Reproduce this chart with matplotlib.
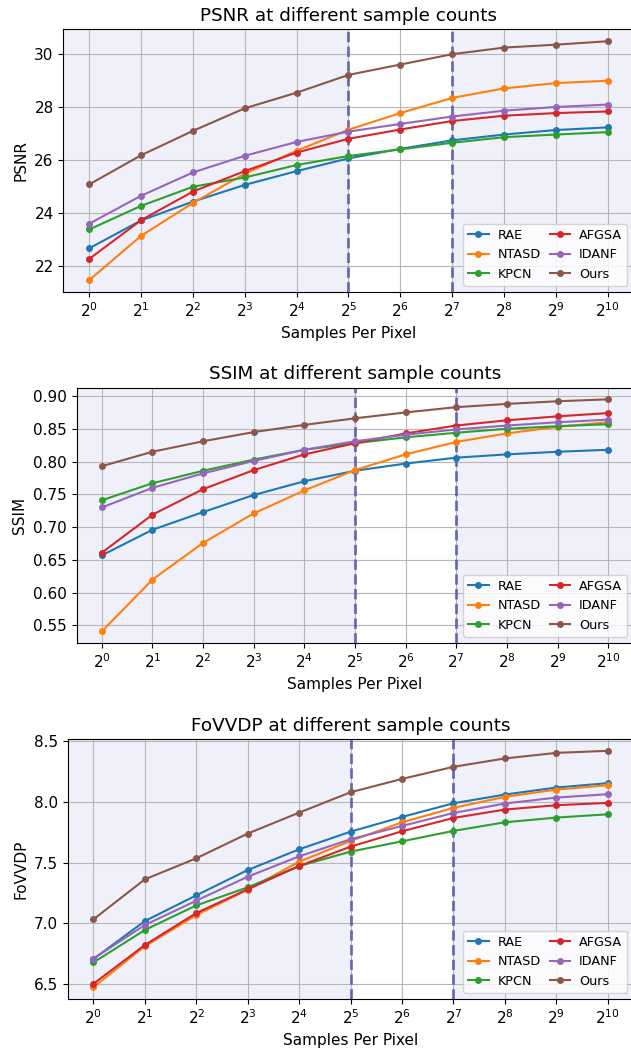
import matplotlib
matplotlib.use("Agg")
import matplotlib.pyplot as plt
import numpy as np

plt.rcParams['font.size'] = 11

methods = ["RAE", "NTASD", "KPCN", "AFGSA", "IDANF", "Ours"]
colors = ["#1f77b4", "#ff7f0e", "#2ca02c", "#d62728", "#9467bd", "#8c564b"]
exponents = list(range(11))
xtick_labels = [f"$2^{{{e}}}$" for e in exponents]

psnr_rae   = [22.67, 23.72, 24.43, 25.06, 25.58, 26.06, 26.42, 26.74, 26.96, 27.13, 27.23]
psnr_ntasd = [21.47, 23.14, 24.38, 25.48, 26.35, 27.14, 27.77, 28.34, 28.70, 28.90, 28.99]
psnr_kpcn  = [23.38, 24.27, 24.99, 25.34, 25.81, 26.15, 26.40, 26.65, 26.86, 26.96, 27.05]
psnr_afgsa = [22.27, 23.73, 24.81, 25.58, 26.28, 26.80, 27.15, 27.47, 27.67, 27.77, 27.83]
psnr_idanf = [23.60, 24.65, 25.53, 26.16, 26.68, 27.07, 27.36, 27.64, 27.86, 28.00, 28.09]
psnr_ours  = [25.08, 26.18, 27.10, 27.95, 28.54, 29.21, 29.60, 29.99, 30.24, 30.35, 30.48]

ssim_rae   = [0.657, 0.696, 0.723, 0.749, 0.770, 0.786, 0.797, 0.806, 0.811, 0.815, 0.818]
ssim_ntasd = [0.541, 0.620, 0.676, 0.721, 0.756, 0.787, 0.811, 0.830, 0.843, 0.853, 0.860]
ssim_kpcn  = [0.741, 0.767, 0.786, 0.803, 0.818, 0.828, 0.837, 0.844, 0.850, 0.854, 0.857]
ssim_afgsa = [0.661, 0.719, 0.758, 0.787, 0.811, 0.828, 0.843, 0.855, 0.863, 0.869, 0.874]
ssim_idanf = [0.730, 0.760, 0.782, 0.801, 0.818, 0.831, 0.841, 0.849, 0.855, 0.860, 0.864]
ssim_ours  = [0.793, 0.815, 0.831, 0.845, 0.856, 0.866, 0.875, 0.883, 0.888, 0.892, 0.895]

fovvdp_rae   = [6.704, 7.018, 7.230, 7.439, 7.610, 7.756, 7.877, 7.990, 8.062, 8.120, 8.156]
fovvdp_ntasd = [6.472, 6.809, 7.067, 7.277, 7.508, 7.679, 7.833, 7.952, 8.043, 8.103, 8.139]
fovvdp_kpcn  = [6.676, 6.944, 7.147, 7.296, 7.472, 7.591, 7.676, 7.762, 7.833, 7.872, 7.899]
fovvdp_afgsa = [6.500, 6.820, 7.084, 7.280, 7.472, 7.632, 7.759, 7.869, 7.938, 7.974, 7.993]
fovvdp_idanf = [6.708, 6.985, 7.186, 7.384, 7.552, 7.693, 7.803, 7.910, 7.988, 8.037, 8.065]
fovvdp_ours  = [7.032, 7.362, 7.536, 7.740, 7.913, 8.081, 8.191, 8.291, 8.360, 8.406, 8.423]

panels = [
    ("PSNR", [psnr_rae, psnr_ntasd, psnr_kpcn, psnr_afgsa, psnr_idanf, psnr_ours]),
    ("SSIM", [ssim_rae, ssim_ntasd, ssim_kpcn, ssim_afgsa, ssim_idanf, ssim_ours]),
    ("FoVVDP", [fovvdp_rae, fovvdp_ntasd, fovvdp_kpcn, fovvdp_afgsa, fovvdp_idanf, fovvdp_ours]),
]

W, H = 631, 1050
fig = plt.figure(figsize=(W / 100, H / 100), dpi=100)
# [left_px, top_px, bottom_px]
boxes = [(63.4, 29.3, 292.0), (76.5, 387.7, 643.0), (67.7, 739.0, 999.0)]
right_px = 633.5

for (metric, series), (lp, tp, bp) in zip(panels, boxes):
    ax = fig.add_axes([lp / W, 1 - bp / H, (right_px - lp) / W, (bp - tp) / H])
    ax.set_facecolor("#f0f0fa")
    ax.axvspan(5, 7, color="white", zorder=0.5, lw=0)
    ax.grid(True, color="#b0b0b0", lw=0.8, alpha=0.9)
    ax.set_axisbelow(True)
    for name, col, vals in zip(methods, colors, series):
        ax.plot(exponents, vals, marker="o", markersize=4, lw=1.5, color=col, label=name, zorder=3)
    for xv in (5, 7):
        ax.axvline(xv, color="#5e5eb0", ls="--", lw=2, alpha=0.9, zorder=2.5)
    ax.set_xticks(exponents)
    ax.set_xticklabels(xtick_labels)
    ax.set_xlabel("Samples Per Pixel")
    ax.set_ylabel(metric)
    ax.set_title(f"{metric} at different sample counts")
    ax.legend(loc="lower right", ncol=2, fontsize="small", handlelength=1.6,
              columnspacing=0.7, handletextpad=0.7, borderaxespad=0.5)
    ax.margins(x=0.05)

fig.savefig("out.png", dpi=100)
